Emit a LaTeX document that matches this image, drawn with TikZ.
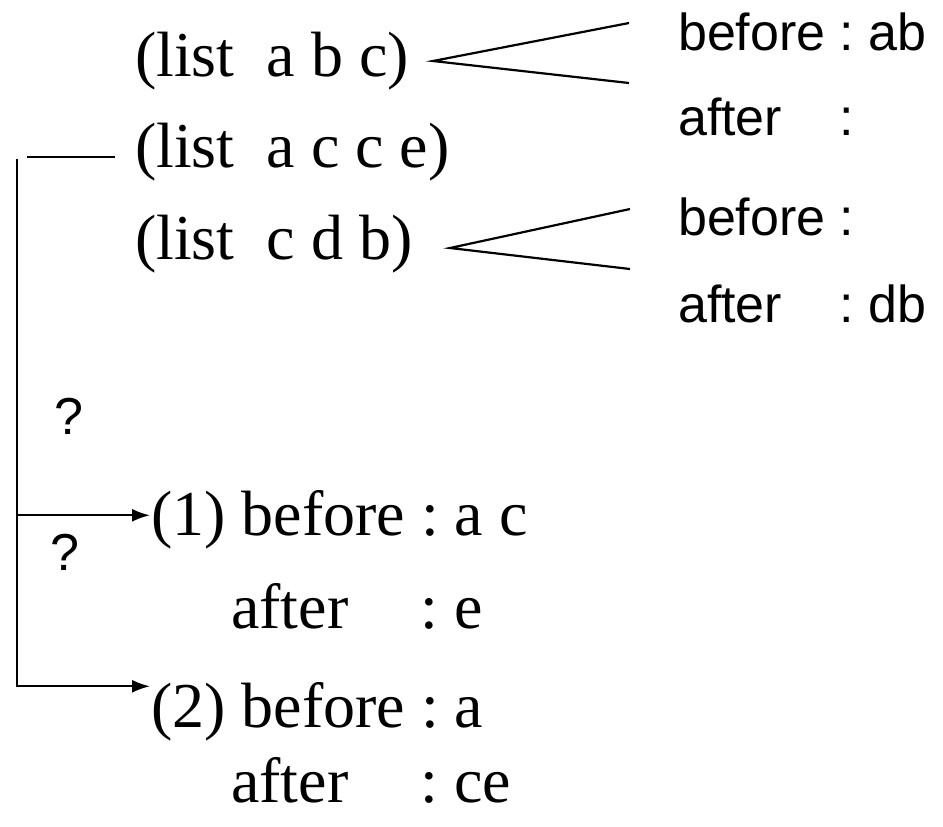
\documentclass[tikz,border=0pt]{standalone}
\usepackage{calc}
\usepackage{fontspec}
\setmainfont{Liberation Serif}
\setsansfont{Liberation Sans}
\usepackage{tikz}
\usetikzlibrary{arrows.meta}
\frenchspacing
\tikzset{lst/.style = {inner sep=0, anchor=base west,
                       font=\fontsize{32}{38}\selectfont}}
\tikzset{tag/.style = {inner sep=0, anchor=base west,
                       font=\sffamily\fontsize{26}{31}\selectfont}}
\tikzset{toitem/.style = {-{Latex[length=9pt, width=6.5pt]}}}

\begin{document}
\begin{tikzpicture}[x=0.5pt, y=-0.5pt, line width=1.1pt]
      \useasboundingbox (0, 0) rectangle (943, 826);

      \node [lst] (abc) at (134, 76) {(list\ \ a b c)};
      \node [lst] (acce) at (134, 167) {(list\ \ a c c e)};
      \node [lst] (cdb) at (134, 259) {(list\ \ c d b)};

      \node [tag] (abcbef) at (677, 50) {before : ab};
      \node [tag] (abcaft) at (677, 135) {\makebox[\widthof{before}][l]{after} :};
      \node [tag] (cdbbef) at (677, 235) {before :};
      \node [tag] (cdbaft) at (677, 322) {\makebox[\widthof{before}][l]{after} : db};

      \coordinate (abcfork) at (433, 61);
      \coordinate (abcup) at (629, 23);
      \coordinate (abcdn) at (629, 83);
      \draw (abcup) -- (abcfork) -- (abcdn);

      \coordinate (cdbfork) at (450, 248);
      \coordinate (cdbup) at (630, 209);
      \coordinate (cdbdn) at (630, 269);
      \draw (cdbup) -- (cdbfork) -- (cdbdn);

      \node [lst] (one) at (150, 535) {(1) before : a c};
      \node [lst] (oneaft) at (230, 628) {\makebox[\widthof{before}+5pt][l]{after} : e};
      \node [lst] (two) at (150, 727) {(2) before : a};
      \node [lst] (twoaft) at (230, 802) {\makebox[\widthof{before}+5pt][l]{after} : ce};

      \node [tag] (q1) at (53, 434) {?};
      \node [tag] (q2) at (49, 570) {?};

      \coordinate (spine) at (17, 159);
      \coordinate (onein) at ([yshift=2pt]one.west);
      \coordinate (twoin) at ([yshift=12.5pt]two.west);
      \draw ([xshift=-9.5pt, yshift=-2.5pt]acce.west) -- ++(-88, 0);
      \draw [toitem] (spine |- onein) -- (onein);
      \draw [toitem] (spine) |- (twoin);
    \end{tikzpicture}
\end{document}
